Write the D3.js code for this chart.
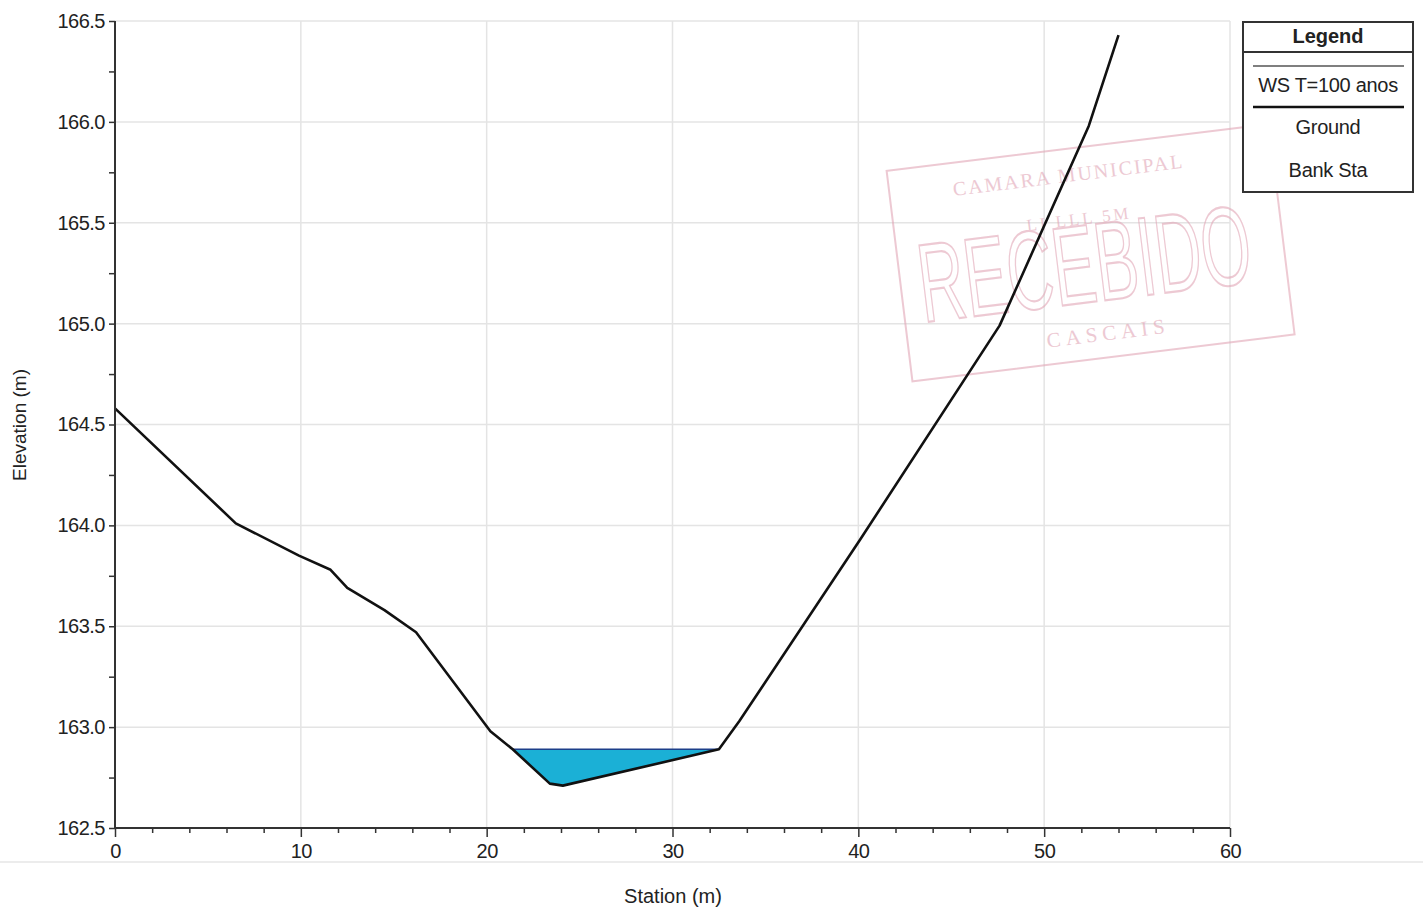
<!DOCTYPE html>
<html><head><meta charset="utf-8">
<script src="https://cdn.jsdelivr.net/npm/d3@7"></script>
<style>body{margin:0;background:#fff;}svg{display:block;font-family:"Liberation Sans",Arial,sans-serif;}</style>
</head><body>
<script>
const groundStation = [0, 6.5, 9.9, 11.6, 12.5, 14.5, 16.2, 20.2, 21.4, 23.4, 24.1, 32.5, 33.6, 40.1, 47.6, 52.4, 54.0];
const groundElev    = [164.58, 164.01, 163.85, 163.78, 163.69, 163.58, 163.47, 162.98, 162.89, 162.72, 162.71, 162.89, 163.03, 163.93, 164.99, 165.98, 166.43];
const wsElev = 162.89;
const wsStart = 21.4, wsEnd = 32.5;
const xTicks = [0, 10, 20, 30, 40, 50, 60];
const yTicks = [162.5, 163.0, 163.5, 164.0, 164.5, 165.0, 165.5, 166.0, 166.5];
const legendItems = ["WS T=100 anos", "Ground", "Bank Sta"];

const W = 1423, H = 909;
const svg = d3.select("body").append("svg").attr("width", W).attr("height", H);
const x = d3.scaleLinear().domain([0, 60]).range([115, 1230]);
const y = d3.scaleLinear().domain([162.5, 166.5]).range([828, 21]);

// grid
svg.append("g").selectAll("line").data(xTicks.slice(1)).join("line")
  .attr("x1", d => x(d)).attr("x2", d => x(d)).attr("y1", y(166.5)).attr("y2", y(162.5))
  .attr("stroke", "#e4e4e4").attr("stroke-width", 1.5);
svg.append("g").selectAll("line").data(yTicks.slice(1)).join("line")
  .attr("x1", x(0)).attr("x2", x(60)).attr("y1", d => y(d)).attr("y2", d => y(d))
  .attr("stroke", "#e4e4e4").attr("stroke-width", 1.5);

// stamp (scanned artifact)
const sc = "#e2a6b6";
const st = svg.append("g").attr("transform", "translate(1088,252) rotate(-7)").attr("opacity", 0.6);
st.append("rect").attr("x", -190).attr("y", -105).attr("width", 385).attr("height", 212)
  .attr("fill", "none").attr("stroke", sc).attr("stroke-width", 2);
st.append("text").attr("x", -10).attr("y", -72).attr("text-anchor", "middle").attr("letter-spacing", 2)
  .attr("font-family", "Liberation Serif").attr("font-size", 20).attr("fill", sc).text("CAMARA MUNICIPAL");
st.append("text").attr("transform", "translate(-5,50) scale(1,1.75)").attr("text-anchor", "middle")
  .attr("font-family", "Liberation Sans Narrow, Liberation Sans").attr("font-size", 64).attr("fill", "none")
  .attr("stroke", sc).attr("stroke-width", 1.2).text("RECEBIDO");
st.append("text").attr("x", -5).attr("y", -28).attr("text-anchor", "middle").attr("letter-spacing", 3)
  .attr("font-family", "Liberation Serif").attr("font-size", 17).attr("fill", sc).text("LI LLL 5M");
st.append("text").attr("x", 10).attr("y", 90).attr("text-anchor", "middle").attr("letter-spacing", 5)
  .attr("font-family", "Liberation Serif").attr("font-size", 21).attr("fill", sc).text("CASCAIS");

// water polygon
const pts = groundStation.map((s, i) => [s, groundElev[i]]);
const wet = pts.filter(p => p[0] >= wsStart && p[0] <= wsEnd);
const waterPoly = [[wsStart, wsElev], ...wet, [wsEnd, wsElev]];
svg.append("path").datum(waterPoly)
  .attr("d", d3.line().x(d => x(d[0])).y(d => y(d[1])))
  .attr("fill", "#1bb0d6").attr("stroke", "none");
svg.append("line").attr("x1", x(wsStart)).attr("x2", x(wsEnd)).attr("y1", y(wsElev)).attr("y2", y(wsElev))
  .attr("stroke", "#1d3f8a").attr("stroke-width", 1.5);

// ground
svg.append("path").datum(pts)
  .attr("d", d3.line().x(d => x(d[0])).y(d => y(d[1])))
  .attr("fill", "none").attr("stroke", "#111").attr("stroke-width", 2.6).attr("stroke-linejoin", "round");

// axes
const xAxis = d3.axisBottom(x).tickValues(d3.range(0, 61, 2)).tickSize(7)
  .tickFormat(d => d % 10 === 0 ? d : "");
const gx = svg.append("g").attr("transform", `translate(0,${y(162.5)})`).call(xAxis);
gx.select(".domain").attr("stroke", "#333").attr("stroke-width", 2).attr("d", `M${x(0)},0H${x(60)}`);
gx.selectAll(".tick line").attr("stroke", "#333").attr("stroke-width", 1.5)
  .attr("y2", d => d % 10 === 0 ? 9 : 5);
gx.selectAll(".tick text").attr("font-size", 20).attr("fill", "#222").attr("y", 15).attr("dy", "0.75em")
  .attr("font-family", "Liberation Sans").attr("letter-spacing", -0.5);

const yAxis = d3.axisLeft(y).tickValues(d3.range(0, 17).map(i => 162.5 + i * 0.25)).tickSize(6)
  .tickFormat(d => Math.abs(d * 2 - Math.round(d * 2)) < 1e-6 ? d.toFixed(1) : "");
const gy = svg.append("g").attr("transform", `translate(${x(0)},0)`).call(yAxis);
gy.select(".domain").attr("stroke", "#333").attr("stroke-width", 2).attr("d", `M0,${y(166.5)}V${y(162.5)}`);
gy.selectAll(".tick line").attr("stroke", "#333").attr("stroke-width", 1.5);
gy.selectAll(".tick text").attr("font-size", 20).attr("fill", "#222").attr("x", -10)
  .attr("font-family", "Liberation Sans").attr("letter-spacing", -0.5);

// bottom separator
svg.append("line").attr("x1", 0).attr("x2", W).attr("y1", 862).attr("y2", 862).attr("stroke", "#e6e6e6").attr("stroke-width", 1.5);

// axis titles
svg.append("text").attr("x", 673).attr("y", 903).attr("text-anchor", "middle").attr("font-size", 20).attr("fill", "#222").text("Station (m)");
svg.append("text").attr("transform", "translate(26,425) rotate(-90)").attr("text-anchor", "middle").attr("font-size", 19).attr("fill", "#222").text("Elevation (m)");

// legend
const lg = svg.append("g");
lg.append("rect").attr("x", 1243).attr("y", 22).attr("width", 170).attr("height", 170)
  .attr("fill", "#fff").attr("stroke", "#333").attr("stroke-width", 2);
lg.append("line").attr("x1", 1243).attr("x2", 1413).attr("y1", 52).attr("y2", 52).attr("stroke", "#333").attr("stroke-width", 2);
lg.append("text").attr("x", 1328).attr("y", 43).attr("text-anchor", "middle").attr("font-size", 20).attr("font-weight", "bold").attr("fill", "#222").text("Legend");
lg.append("line").attr("x1", 1253).attr("x2", 1404).attr("y1", 66).attr("y2", 66).attr("stroke", "#555").attr("stroke-width", 1.5);
lg.append("line").attr("x1", 1253).attr("x2", 1404).attr("y1", 107).attr("y2", 107).attr("stroke", "#111").attr("stroke-width", 2.6);
lg.selectAll("text.item").data(legendItems).join("text").attr("class", "item")
  .attr("x", 1328).attr("y", (d, i) => [92, 134, 177][i]).attr("text-anchor", "middle")
  .attr("font-size", 20).attr("fill", "#222").attr("letter-spacing", -0.3).text(d => d);
</script>
</body></html>
